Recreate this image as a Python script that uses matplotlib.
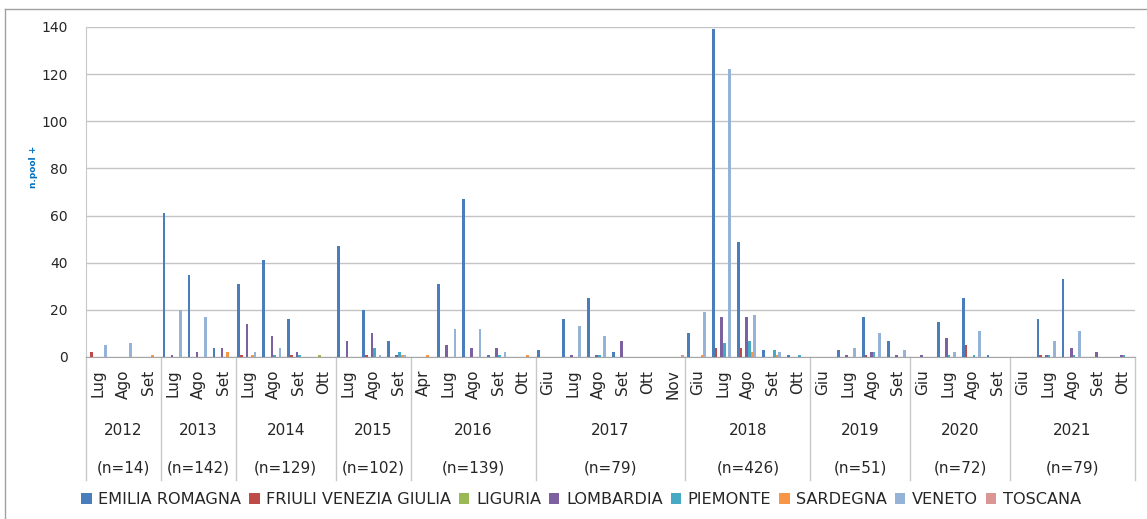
import matplotlib.pyplot as plt
import matplotlib.transforms as mtransforms
from matplotlib.lines import Line2D
import numpy as np

months = ["Lug", "Ago", "Set",
          "Lug", "Ago", "Set",
          "Lug", "Ago", "Set", "Ott",
          "Lug", "Ago", "Set",
          "Apr", "Lug", "Ago", "Set", "Ott",
          "Giu", "Lug", "Ago", "Set", "Ott", "Nov",
          "Giu", "Lug", "Ago", "Set", "Ott",
          "Giu", "Lug", "Ago", "Set",
          "Giu", "Lug", "Ago", "Set",
          "Giu", "Lug", "Ago", "Set", "Ott"]
years = ["2012", "2013", "2014", "2015", "2016", "2017", "2018", "2019", "2020", "2021"]
year_sizes = [3, 3, 4, 3, 5, 6, 5, 4, 4, 5]
year_n = ["(n=14)", "(n=142)", "(n=129)", "(n=102)", "(n=139)", "(n=79)",
          "(n=426)", "(n=51)", "(n=72)", "(n=79)"]

regions = ["EMILIA ROMAGNA", "FRIULI VENEZIA GIULIA", "LIGURIA", "LOMBARDIA",
           "PIEMONTE", "SARDEGNA", "VENETO", "TOSCANA"]

emilia    = [0, 0, 0,  61, 35, 4,  31, 41, 16, 0,  47, 20, 7,  0, 31, 67, 1, 0,
             3, 16, 25, 2, 0, 0,  10, 139, 49, 3, 1,  0, 3, 17, 7,  0, 15, 25, 1,
             0, 16, 33, 0, 0]
friuli    = [2, 0, 0,  0, 0, 0,  1, 0, 1, 0,  0, 1, 0,  0, 0, 0, 0, 0,
             0, 0, 0, 0, 0, 0,  0, 4, 4, 0, 0,  0, 0, 1, 0,  0, 0, 5, 0,
             0, 1, 0, 0, 0]
liguria   = [0, 0, 0,  0, 0, 0,  0, 0, 0, 1,  0, 0, 0,  0, 0, 0, 0, 0,
             0, 0, 0, 0, 0, 0,  0, 0, 0, 0, 0,  0, 0, 0, 0,  0, 0, 0, 0,
             0, 0, 0, 0, 0]
lombardia = [0, 0, 0,  1, 2, 4,  14, 9, 2, 0,  7, 10, 1,  0, 5, 4, 4, 0,
             0, 1, 1, 7, 0, 0,  0, 17, 17, 0, 0,  0, 1, 2, 1,  1, 8, 0, 0,
             0, 1, 4, 2, 1]
piemonte  = [0, 0, 0,  0, 0, 0,  0, 1, 1, 0,  0, 4, 2,  0, 0, 0, 1, 0,
             0, 0, 1, 0, 0, 0,  0, 6, 7, 3, 1,  0, 0, 2, 0,  0, 1, 1, 0,
             0, 1, 1, 0, 1]
sardegna  = [0, 0, 1,  0, 0, 2,  1, 0, 0, 0,  0, 0, 1,  1, 0, 0, 0, 1,
             0, 0, 0, 0, 0, 0,  1, 0, 2, 1, 0,  0, 0, 0, 0,  0, 0, 0, 0,
             0, 0, 0, 0, 0]
veneto    = [5, 6, 0,  20, 17, 0,  2, 4, 0, 0,  0, 1, 1,  0, 12, 12, 2, 0,
             0, 13, 9, 0, 0, 0,  19, 122, 18, 2, 0,  0, 4, 10, 3,  0, 2, 11, 0,
             0, 7, 11, 0, 0]
toscana   = [0, 0, 0,  0, 0, 0,  0, 0, 0, 0,  0, 0, 0,  0, 0, 0, 0, 0,
             0, 0, 0, 0, 0, 1,  0, 0, 0, 0, 0,  0, 0, 0, 0,  0, 0, 0, 0,
             0, 0, 0, 0, 0]

series = [emilia, friuli, liguria, lombardia, piemonte, sardegna, veneto, toscana]
colors = ["#4A7EBB", "#BE4B48", "#98B954", "#7D60A0", "#46AAC5", "#F79646",
          "#95B3D7", "#D99694"]

plt.rcParams['font.family'] = 'DejaVu Sans'
txt = '#262626'
W, H = 1147, 519
fig = plt.figure(figsize=(W / 100, H / 100), dpi=100)
ax = fig.add_axes([86 / W, (H - 357) / H, (1135 - 86) / W, 330 / H])

x = np.arange(len(months))
w = 1 / 9.2
handles = []
for j, vals in enumerate(series):
    b = ax.bar(x + (j - 3.5) * w, vals, w, color=colors[j], label=regions[j], zorder=3)
    handles.append(b)

ax.set_xlim(-0.5, len(months) - 0.5)
ax.set_ylim(0, 140)
ax.set_yticks(range(0, 141, 20))
ax.yaxis.grid(True, color='#C4C4C4', lw=1)
ax.set_axisbelow(True)
for s in ['top', 'right']:
    ax.spines[s].set_visible(False)
ax.spines['left'].set_color('#C8C8C8')
ax.spines['bottom'].set_color('#A6A6A6')
ax.tick_params(axis='y', length=0, pad=13, labelsize=10, labelcolor=txt)
ax.set_xticks(x)
ax.set_xticklabels(months, rotation=90, fontsize=11, color=txt)
ax.tick_params(axis='x', length=0, pad=9)

trans = mtransforms.blended_transform_factory(ax.transData, ax.transAxes)
edges = np.concatenate([[0], np.cumsum(year_sizes)]) - 0.5
for k in range(len(years)):
    mid = (edges[k] + edges[k + 1]) / 2
    ax.text(mid, -0.223, years[k], transform=trans, ha='center', va='center',
            fontsize=11, color=txt)
    ax.text(mid, -0.336, year_n[k], transform=trans, ha='center', va='center',
            fontsize=11, color=txt)
for e in edges:
    ax.plot([e, e], [0, -0.373], transform=trans, color='#C8C8C8', lw=1, clip_on=False)

fig.text(33 / W, 1 - 167 / H, "n.pool +", rotation=90, color='#0070C0', fontsize=6.5,
         fontweight='bold', ha='center', va='center')

# chart frame (cropped on the right and bottom)
fig.add_artist(Line2D([5 / W, 5 / W], [0, 1 - 9 / H], transform=fig.transFigure,
                      color='#A0A0A0', lw=1))
fig.add_artist(Line2D([5 / W, 1], [1 - 9 / H, 1 - 9 / H], transform=fig.transFigure,
                      color='#A0A0A0', lw=1))

fig.legend(handles, regions, loc='center', bbox_to_anchor=(581 / W, 1 - 500 / H), ncol=8,
           frameon=False, fontsize=11.6, handlelength=0.65, handleheight=0.65,
           handletextpad=0.4, columnspacing=0.5, labelcolor=txt)

plt.savefig('out.png', dpi=100)
